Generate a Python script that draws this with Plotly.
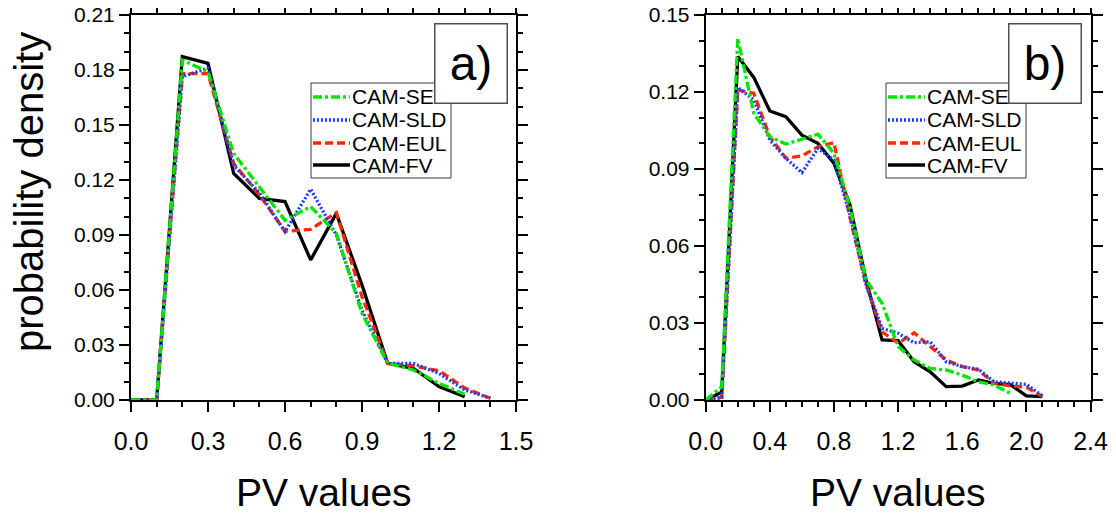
import plotly.graph_objects as go

# PV bins
pv_a = [0.0, 0.1, 0.2, 0.3, 0.4, 0.5, 0.6, 0.7, 0.8, 0.9, 1.0, 1.1, 1.2, 1.3, 1.4]
pv_b = [0.0, 0.1, 0.2, 0.3, 0.4, 0.5, 0.6, 0.7, 0.8, 0.9, 1.0, 1.1, 1.2, 1.3, 1.4,
        1.5, 1.6, 1.7, 1.8, 1.9, 2.0, 2.1]

# panel a)
se_a = [0, 0, 0.1855, 0.179, 0.1345, 0.1164, 0.098, 0.1055, 0.0909, 0.0473, 0.020, 0.0164, 0.0091, 0.0031]
sld_a = [0, 0, 0.1764, 0.181, 0.128, 0.113, 0.0918, 0.115, 0.090, 0.049, 0.020, 0.020, 0.0145, 0.0055, 0.001]
eul_a = [0, 0, 0.178, 0.178, 0.129, 0.112, 0.092, 0.0931, 0.1022, 0.0564, 0.020, 0.0186, 0.016, 0.0065, 0.001]
fv_a = [0, 0, 0.1873, 0.1836, 0.1236, 0.110, 0.1082, 0.0764, 0.1018, 0.0627, 0.020, 0.0173, 0.0073, 0.0018]

# panel b)
se_b = [0, 0.0052, 0.1409, 0.1117, 0.1026, 0.0997, 0.1016, 0.1036, 0.0961, 0.075, 0.0468,
        0.0377, 0.0208, 0.0156, 0.0123, 0.0117, 0.0097, 0.0071, 0.0058, 0.0026]
sld_b = [0, 0.001, 0.1218, 0.1169, 0.1013, 0.0942, 0.0886, 0.098, 0.0935, 0.072, 0.045,
         0.0279, 0.026, 0.0223, 0.0227, 0.0149, 0.013, 0.012, 0.0071, 0.0065, 0.0061, 0.0016]
eul_b = [0, 0.001, 0.1208, 0.1195, 0.1026, 0.0942, 0.0951, 0.0987, 0.1003, 0.071, 0.045,
         0.0266, 0.0221, 0.0262, 0.0208, 0.0156, 0.013, 0.0117, 0.0065, 0.0055, 0.005, 0.0013]
fv_b = [0, 0.003, 0.1338, 0.1257, 0.1126, 0.1104, 0.1032, 0.100, 0.0922, 0.076, 0.0468,
        0.0234, 0.0231, 0.0149, 0.011, 0.0052, 0.0054, 0.0078, 0.0065, 0.006, 0.0016, 0.0013]

# tick labels
xticks_a = ['0.0', '0.3', '0.6', '0.9', '1.2', '1.5']
yticks_a = ['0.00', '0.03', '0.06', '0.09', '0.12', '0.15', '0.18', '0.21']
xticks_b = ['0.0', '0.4', '0.8', '1.2', '1.6', '2.0', '2.4']
yticks_b = ['0.00', '0.03', '0.06', '0.09', '0.12', '0.15']

names = ['CAM-SE', 'CAM-SLD', 'CAM-EUL', 'CAM-FV']
colors = ['rgb(0,230,0)', 'rgb(25,60,255)', 'rgb(255,40,0)', 'black']
dashes = ['9px,3px,3px,3px', '2px,2px', '8px,4px', 'solid']

# page body adds an 8px margin; work in window pixels and convert
OFF = 8
W, H = 1116 - OFF, 513 - OFF


def px(x):
    return (x - OFF) / W


def py(y):
    return 1 - (y - OFF) / H


fig = go.Figure()

series = [
    ('x', 'y', pv_a, [se_a, sld_a, eul_a, fv_a]),
    ('x2', 'y2', pv_b, [se_b, sld_b, eul_b, fv_b]),
]
for xa, ya, xs, ys in series:
    # draw FV first so SE ends up on top
    for i in [3, 2, 1, 0]:
        fig.add_trace(go.Scatter(
            x=xs[:len(ys[i])], y=ys[i], mode='lines', name=names[i],
            line=dict(color=colors[i], width=3.3, dash=dashes[i]),
            xaxis=xa, yaxis=ya, showlegend=False))

tickfont_y = dict(family='Liberation Sans, Arial', size=21, color='black')
tickfont_x = dict(family='Liberation Sans, Arial', size=25, color='black')

ax_common = dict(showline=True, linecolor='black', linewidth=2, mirror='allticks',
                 ticks='outside', ticklen=10, tickwidth=1.5, tickcolor='black',
                 showgrid=False, zeroline=False, automargin=False, tickmode='array',
                 ticklabeloverflow='allow')


def ax_ticks(labels, minor_step):
    vals = [float(t) for t in labels]
    return dict(range=[vals[0], vals[-1]], tickvals=vals, ticktext=labels,
                minor=dict(dtick=minor_step, tick0=0, ticklen=5, tickcolor='black',
                           ticks='outside'))


fig.update_layout(
    width=W, height=H,
    margin=dict(l=0, r=0, t=0, b=0),
    plot_bgcolor='white', paper_bgcolor='white',
    xaxis=dict(domain=[px(131), px(516)], tickfont=tickfont_x, ticklabelstandoff=8,
               anchor='y', **ax_ticks(xticks_a, 0.1), **ax_common),
    yaxis=dict(domain=[py(400), py(15)], tickfont=tickfont_y,
               anchor='x', **ax_ticks(yticks_a, 0.01), **ax_common),
    xaxis2=dict(domain=[px(705.7), px(1090.5)], tickfont=tickfont_x, ticklabelstandoff=8,
                anchor='y2', **ax_ticks(xticks_b, 0.1), **ax_common),
    yaxis2=dict(domain=[py(400), py(15)], tickfont=tickfont_y,
                anchor='x2', **ax_ticks(yticks_b, 0.01), **ax_common),
)

# legends drawn by hand: frame, line samples, names
legend_rows = [97, 120, 143, 165]
for x0 in [311, 886]:
    fig.add_shape(type='rect', xref='paper', yref='paper', layer='above',
                  x0=px(x0), x1=px(x0 + 140), y0=py(178), y1=py(83),
                  fillcolor='white', line=dict(color='rgb(60,60,60)', width=1))
    for i, yr in enumerate(legend_rows):
        fig.add_shape(type='line', xref='paper', yref='paper', layer='above',
                      x0=px(x0 + 2), x1=px(x0 + 39), y0=py(yr), y1=py(yr),
                      line=dict(color=colors[i], width=3.3, dash=dashes[i]))
        fig.add_annotation(text=names[i], x=px(x0 + 39), y=py(yr), xref='paper', yref='paper',
                           xanchor='left', yanchor='middle', showarrow=False,
                           font=dict(family='Liberation Sans, Arial', size=21, color='black'))

title_font = dict(family='Liberation Sans, Arial', size=39, color='black')
fig.add_annotation(text='probability density', x=px(29), y=py(192), xref='paper', yref='paper',
                   xanchor='center', yanchor='middle', textangle=-90, showarrow=False,
                   font=dict(family='Liberation Sans, Arial', size=40, color='black'))
fig.add_annotation(text='PV values', x=px(323.5), y=py(492), xref='paper', yref='paper',
                   xanchor='center', yanchor='middle', showarrow=False, font=title_font)
fig.add_annotation(text='PV values', x=px(898), y=py(492), xref='paper', yref='paper',
                   xanchor='center', yanchor='middle', showarrow=False, font=title_font)

# panel labels (boxes sit on top of the legends)
for lab, xc in [('a)', 470.5), ('b)', 1045.3)]:
    fig.add_annotation(text=lab, x=px(xc), y=py(64), xref='paper', yref='paper',
                       xanchor='center', yanchor='middle',
                       showarrow=False, width=69, height=76, bgcolor='white',
                       bordercolor='rgb(80,80,80)', borderwidth=1.5,
                       font=dict(family='Liberation Sans, Arial', size=48, color='black'))

fig.write_html("out.html")
